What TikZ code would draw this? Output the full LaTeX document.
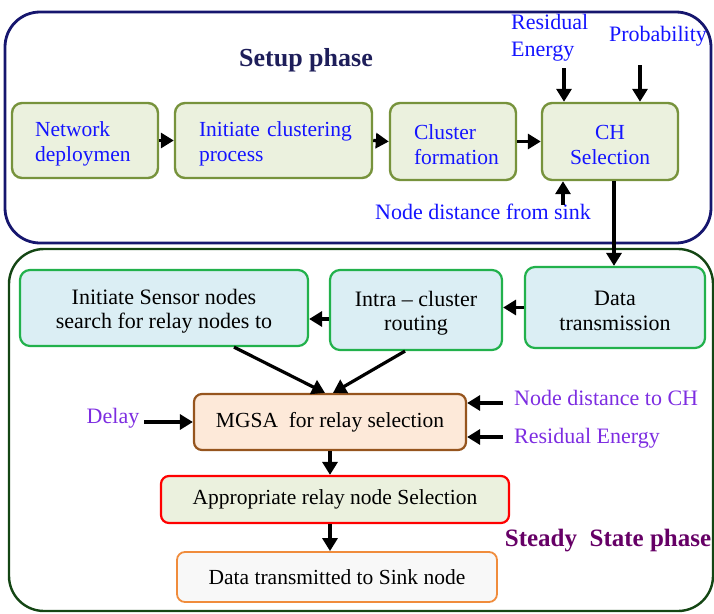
\documentclass[tikz,border=0pt]{standalone}
\usepackage{fontspec}
\setmainfont{Liberation Serif}
\usetikzlibrary{arrows.meta}
\definecolor{navyc}{RGB}{22,22,110}
\definecolor{navyt}{RGB}{30,30,90}
\definecolor{dgreen}{RGB}{20,70,20}
\definecolor{olivec}{RGB}{119,147,60}
\definecolor{olivefill}{RGB}{235,241,222}
\definecolor{greenc}{RGB}{34,177,76}
\definecolor{bluefill}{RGB}{219,238,244}
\definecolor{brownc}{RGB}{150,85,30}
\definecolor{peach}{RGB}{253,233,217}
\definecolor{orangec}{RGB}{240,140,60}
\definecolor{greyfill}{RGB}{248,248,248}
\definecolor{bluet}{RGB}{20,20,255}
\definecolor{purplet}{RGB}{125,45,225}
\definecolor{plum}{RGB}{102,0,102}
\newcommand\lowerline{\rule{0pt}{21.5pt}}
\tikzset{
  phasebox/.style={rounded corners=35pt, line width=2.8pt},
  sbox/.style={draw=olivec, fill=olivefill, line width=2.4pt, rounded corners=10pt,
    font=\fontsize{21.5}{24.5}\selectfont, text=bluet, inner ysep=0pt, align=left},
  tbox/.style={draw=greenc, fill=bluefill, line width=2.2pt, rounded corners=10pt,
    font=\fontsize{22}{24.5}\selectfont, inner sep=0pt, align=center},
  lbl/.style={font=\fontsize{22}{27}\selectfont, inner sep=0pt},
  arr/.style={line width=3.2pt, -{Triangle[length=13pt,width=15pt]}},
}
\begin{document}
\begin{tikzpicture}[x=1pt,y=-1pt]
\useasboundingbox (0,0) rectangle (714,613);
% phase frames
\draw[phasebox, draw=navyc] (5,12) rectangle (711,243);
\draw[phasebox, draw=dgreen, line width=2.4pt] (9,249) rectangle (713,611);
\node[font=\fontsize{26}{30}\selectfont\bfseries, text=navyt] (setup) at (306,60) {Setup phase};
\node[font=\fontsize{25}{30}\selectfont\bfseries, text=plum] (steady) at (608,541) {Steady\ \ State phase};
% setup boxes
\node[sbox, text width=100pt, inner xsep=23pt, minimum height=75pt] (nd) at (85,140.5) {\lowerline\mbox{Network}\\\mbox{deploymen}};
\node[sbox, text width=149pt, inner xsep=24pt, minimum height=75pt] (ic) at (273.5,140.5) {\lowerline\mbox{Initiate clustering}\\\mbox{process}};
\node[sbox, text width=78pt, inner xsep=24pt, minimum height=77pt] (cf) at (453,141.5) {\lowerline\mbox{Cluster}\\\mbox{formation}};
\node[sbox, align=center, inner xsep=0pt, minimum width=136pt, minimum height=77pt] (ch) at (610,141.5) {\lowerline CH\\Selection};
\draw[arr] (nd.east) -- (ic.west);
\draw[arr] (ic.east) -- (cf.west);
\draw[arr] (cf.east) -- (ch.west);
% CH inputs
\node[lbl, text=bluet, align=left, anchor=west] (res) at (511,38) {Residual\\Energy};
\node[lbl, text=bluet] (prob) at (658,36) {Probability};
\node[lbl, text=bluet] (nds) at (483,212) {Node distance from sink};
\coordinate (resa) at (564,68);
\coordinate (proba) at (640,65);
\coordinate (ndsa) at (563,205);
\draw[arr] (resa) -- (resa |- ch.north);
\draw[arr] (proba) -- (proba |- ch.north);
\draw[arr] (ndsa) -- (ndsa |- ch.south);
% steady boxes
\node[tbox, minimum width=288pt, minimum height=76pt] (isn) at (164,308) {\lowerline Initiate Sensor nodes\\search for relay nodes to};
\node[tbox, minimum width=172pt, minimum height=80pt] (icr) at (416,310) {\lowerline Intra -- cluster\\routing};
\node[tbox, minimum width=180pt, minimum height=81pt] (dt) at (615,307.5) {\lowerline Data\\transmission};
\coordinate (chd) at (614,180);
\draw[arr] (chd |- ch.south) -- (chd |- dt.north);
\draw[arr] (dt.west) -- (dt.west -| icr.east);
\draw[arr] ([yshift=-9pt]icr.west) -- ([yshift=-9pt]icr.west -| isn.east);
% MGSA
\node[draw=brownc, fill=peach, line width=2.2pt, rounded corners=8pt, minimum width=272pt, minimum height=56pt, inner sep=0pt, font=\fontsize{21.5}{25}\selectfont] (mgsa) at (330,422) {MGSA\ \ for relay selection};
\draw[arr] ([xshift=70pt]isn.south) -- ([xshift=-5pt]mgsa.north);
\draw[arr] ([xshift=-11pt]icr.south) -- ([xshift=3pt]mgsa.north);
\node[lbl, text=purplet] (delay) at (113,418) {Delay};
\draw[arr] (delay.east) ++(5pt,0) coordinate (dla) (dla |- mgsa.west) -- (mgsa.west);
\node[lbl, text=purplet, anchor=west] (ndch) at (514,398) {Node distance to CH};
\node[lbl, text=purplet, anchor=west] (rech) at (514,438) {Residual Energy};
\draw[arr] ([xshift=-11pt]ndch.west |- 0,403) -- (mgsa.east |- 0,403);
\draw[arr] ([xshift=-11pt]rech.west |- 0,437) -- (mgsa.east |- 0,437);
% relay selection
\node[draw=red, fill=olivefill, line width=2.2pt, rounded corners=8pt, minimum width=348pt, minimum height=47pt, inner sep=0pt, font=\fontsize{21.5}{25}\selectfont] (app) at (335,499.5) {Appropriate relay node Selection};
\node[draw=orangec, fill=greyfill, line width=1.8pt, rounded corners=8pt, minimum width=320pt, minimum height=50pt, inner sep=0pt, font=\fontsize{21.5}{25}\selectfont] (dts) at (337,577) {Data transmitted to Sink node};
\coordinate (vx) at (330,0);
\draw[arr] (vx |- mgsa.south) -- (vx |- app.north);
\draw[arr] (vx |- app.south) -- (vx |- dts.north);
\end{tikzpicture}
\end{document}
